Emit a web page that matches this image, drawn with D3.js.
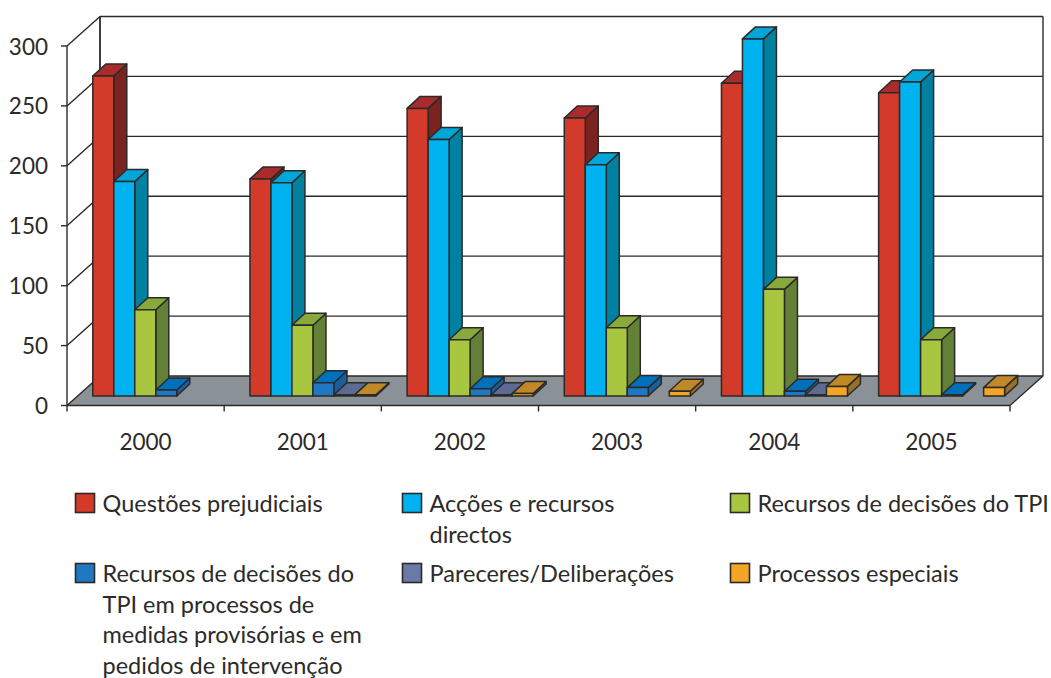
<!DOCTYPE html>
<html lang="pt">
<head>
<meta charset="utf-8">
<title>Processos por natureza, 2000–2005</title>
<script src="https://cdn.jsdelivr.net/npm/d3@7/dist/d3.min.js"></script>
<style>
  html, body { margin: 0; background: #fff; }
  svg { display: block; }
  text { font-family: Lato, "Noto Sans", sans-serif; fill: #2b2a29; }
</style>
</head>
<body>
<svg id="chart" width="1051" height="678"></svg>
<script>
// Years and yearly counts per type of proceeding
const years = ["2000", "2001", "2002", "2003", "2004", "2005"];
const yTicks = [0, 50, 100, 150, 200, 250, 300];

const questoes   = [267, 181, 240, 232, 261, 253];
const accoes     = [179, 178, 214, 193, 298, 262];
const recursos   = [72, 59, 47, 57, 89, 47];
const medidas    = [5, 11, 6, 7, 4, 1];
const pareceres  = [0, 1, 1, 0, 1, 0];
const especiais  = [0, 1, 2, 4, 8, 7];

const seriesNames = [
  ["Questões prejudiciais"],
  ["Acções e recursos", "directos"],
  ["Recursos de decisões do TPI"],
  ["Recursos de decisões do", "TPI em processos de", "medidas provisórias e em", "pedidos de intervenção"],
  ["Pareceres/Deliberações"],
  ["Processos especiais"]
];
const seriesValues = [questoes, accoes, recursos, medidas, pareceres, especiais];
const seriesFront = ["#d23a2a", "#00b2ef", "#a8c63f", "#1f78c1", "#6a7aa8", "#f3a625"];
const seriesTop   = ["#a82c2c", "#00a6d8", "#88aa3c", "#0070bb", "#5d6b92", "#c08827"];
const seriesSide  = ["#7c2320", "#0081a0", "#628036", "#1b5e9c", "#46507a", "#9a7028"];

const svg = d3.select("#chart");
const ink = "#2b2a29";

// Front plane of the oblique box and the depth vector towards the back wall
const plot = { left: 67, right: 1010, bottom: 405.5, top: 46 };
const depth = { dx: 33, dy: -29.5 };
const barDepth = { dx: 13, dy: -12 };    // depth of each column
const barInset = { dx: 10.2, dy: -9.5 }; // columns stand this far back on the floor

const y = d3.scaleLinear().domain([0, 300]).range([plot.bottom, plot.top]);
const x = d3.scaleBand().domain(years).range([plot.left, plot.right]);
const barW = 21;
const groupLead = (x.bandwidth() - barW * 6) / 2;

const poly = (g, pts, fill) => g.append("polygon")
  .attr("points", pts.map(d => d.join(",")).join(" "))
  .attr("fill", fill);
const line = (g, x1, y1, x2, y2, w = 1.4) => g.append("line")
  .attr("x1", x1).attr("y1", y1).attr("x2", x2).attr("y2", y2)
  .attr("stroke", ink).attr("stroke-width", w);

// Box: floor, back wall, gridlines
const box = svg.append("g");
poly(box, [
  [plot.left, plot.bottom], [plot.right, plot.bottom],
  [plot.right + depth.dx, plot.bottom + depth.dy], [plot.left + depth.dx, plot.bottom + depth.dy]
], "#8a9197");

yTicks.forEach(t => {
  const py = y(t);
  line(box, plot.left, py, plot.left + depth.dx, py + depth.dy);
  line(box, plot.left + depth.dx, py + depth.dy, plot.right + depth.dx, py + depth.dy);
  line(box, plot.left - 6, py, plot.left, py);
});
line(box, plot.left, y(300), plot.left, y(0));
line(box, plot.left + depth.dx, y(300) + depth.dy, plot.left + depth.dx, y(0) + depth.dy, 1.8);
line(box, plot.right + depth.dx, y(300) + depth.dy, plot.right + depth.dx, y(0) + depth.dy);
line(box, plot.right, plot.bottom, plot.right + depth.dx, plot.bottom + depth.dy);
line(box, plot.left, plot.bottom, plot.right, plot.bottom, 1.6);

// Category ticks along the front edge
d3.range(years.length + 1).forEach(i => {
  const px = plot.left + i * x.bandwidth();
  line(box, px, plot.bottom, px, plot.bottom + 6);
});

// Value and category labels
svg.append("g").selectAll("text").data(yTicks).join("text")
  .attr("x", 48).attr("y", d => y(d) + 8.5)
  .attr("text-anchor", "end").attr("font-size", 22.5).text(d => d);

svg.append("g").selectAll("text").data(years).join("text")
  .attr("x", d => x(d) + x.bandwidth() / 2).attr("y", 450)
  .attr("text-anchor", "middle").attr("font-size", 22.5).text(d => d);

// Columns, painted left to right so each front face covers its neighbour's side
const bars = svg.append("g")
  .attr("stroke", ink).attr("stroke-width", 1.5).attr("stroke-linejoin", "round");
years.forEach((yr, yi) => {
  seriesValues.forEach((vals, si) => {
    const v = vals[yi];
    if (!v) return;
    const x0 = x(yr) + groupLead + barInset.dx + si * barW;
    const x1 = x0 + barW;
    const base = y(0) + barInset.dy;
    const top = y(v) + barInset.dy;
    const g = bars.append("g");
    poly(g, [[x1, top], [x1 + barDepth.dx, top + barDepth.dy],
             [x1 + barDepth.dx, base + barDepth.dy], [x1, base]], seriesSide[si]);
    poly(g, [[x0, top], [x1, top], [x1 + barDepth.dx, top + barDepth.dy],
             [x0 + barDepth.dx, top + barDepth.dy]], seriesTop[si]);
    poly(g, [[x0, base], [x1, base], [x1, top], [x0, top]], seriesFront[si]);
  });
});

// Legend, two rows of three entries
const legendX = [75.5, 402.5, 730.5];
const legendY = [512, 582];
const legend = svg.append("g");
seriesNames.forEach((lines, i) => {
  const col = i % 3, row = Math.floor(i / 3);
  const lx = legendX[col], ly = legendY[row];
  legend.append("rect")
    .attr("x", lx).attr("y", ly - 18.5).attr("width", 19).attr("height", 19)
    .attr("fill", seriesFront[i]).attr("stroke", ink).attr("stroke-width", 1.6);
  lines.forEach((t, k) => {
    legend.append("text")
      .attr("x", lx + 27).attr("y", ly + k * 30.5)
      .attr("font-size", 23.5).text(t);
  });
});
</script>
</body>
</html>
